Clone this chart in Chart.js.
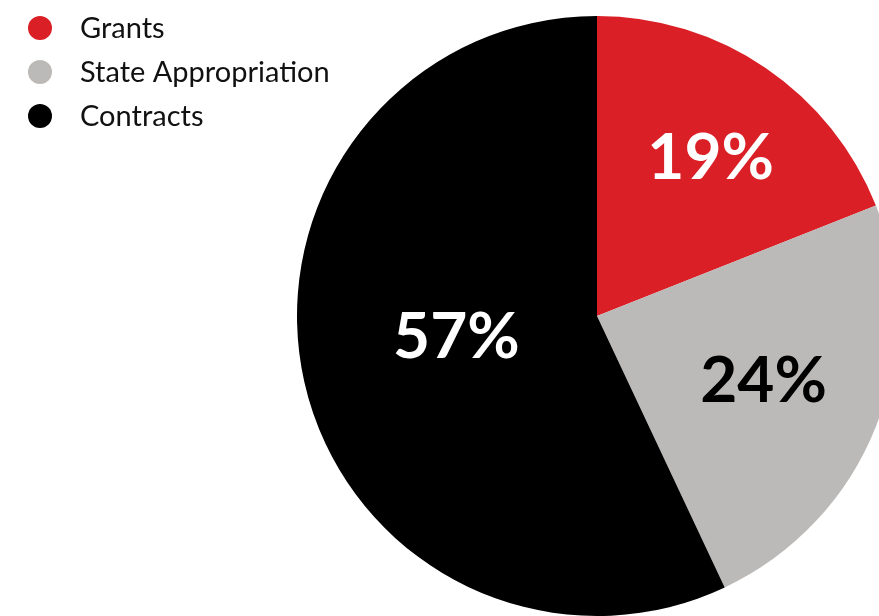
<!DOCTYPE html>
<html>
<head>
<meta charset="utf-8">
<script src="https://cdn.jsdelivr.net/npm/chart.js@4.4.1/dist/chart.umd.min.js"></script>
<style>
  html, body { margin: 0; padding: 0; background: #fff; overflow: hidden; }
  #wrap { position: absolute; left: 0; top: 0; width: 1194px; height: 632px; }
</style>
</head>
<body>
<div id="wrap"><canvas id="grafica" width="1194" height="632"></canvas></div>
<script>
// datos
const categorias = ['Grants', 'State Appropriation', 'Contracts'];
const porcentajes = [19, 24, 57];

// estilos
const colores = ['#da1f26', '#bbbab8', '#000000'];
const coloresTexto = ['#ffffff', '#000000', '#ffffff'];
const radioEtiqueta = [0.65, 0.59, 0.48]; // fracción del radio donde va cada etiqueta
const ajusteEtiqueta = [[4, 4], [2, 0], [0, -10]]; // pequeño desplazamiento en px

// etiquetas de porcentaje dentro de cada porción
const etiquetasPlugin = {
    id: 'etiquetas',
    afterDatasetsDraw(chart) {
        const ctx = chart.ctx;
        const meta = chart.getDatasetMeta(0);
        ctx.save();
        ctx.font = '700 64px Lato';
        ctx.textAlign = 'center';
        ctx.textBaseline = 'middle';
        meta.data.forEach((arc, i) => {
            const p = arc.getProps(['x', 'y', 'startAngle', 'endAngle', 'outerRadius'], true);
            const mid = (p.startAngle + p.endAngle) / 2;
            const r = p.outerRadius * radioEtiqueta[i];
            const x = p.x + Math.cos(mid) * r + ajusteEtiqueta[i][0];
            const y = p.y + Math.sin(mid) * r + ajusteEtiqueta[i][1];
            ctx.fillStyle = coloresTexto[i];
            ctx.fillText(chart.data.datasets[0].data[i] + '%', x, y);
        });
        ctx.restore();
    }
};

// leyenda arriba a la izquierda
const leyendaPlugin = {
    id: 'leyenda',
    afterDraw(chart) {
        const ctx = chart.ctx;
        const ds = chart.data.datasets[0];
        ctx.save();
        ctx.font = '400 29px Lato';
        ctx.textBaseline = 'middle';
        chart.data.labels.forEach((lbl, i) => {
            const y = 28 + i * 44;
            ctx.fillStyle = ds.backgroundColor[i];
            ctx.beginPath();
            ctx.arc(40, y, 12, 0, Math.PI * 2);
            ctx.fill();
            ctx.fillStyle = '#111';
            ctx.fillText(lbl, 80, y + 1);
        });
        ctx.restore();
    }
};

new Chart(document.getElementById('grafica'), {
    type: 'pie',
    data: {
        labels: categorias,
        datasets: [{
            data: porcentajes,
            backgroundColor: colores,
            borderWidth: 0,
            hoverOffset: 0
        }]
    },
    options: {
        responsive: false,
        animation: false,
        layout: { padding: { top: 16, bottom: 16 } },
        plugins: {
            legend: { display: false },
            tooltip: { enabled: false }
        }
    },
    plugins: [etiquetasPlugin, leyendaPlugin]
});
</script>
</body>
</html>
